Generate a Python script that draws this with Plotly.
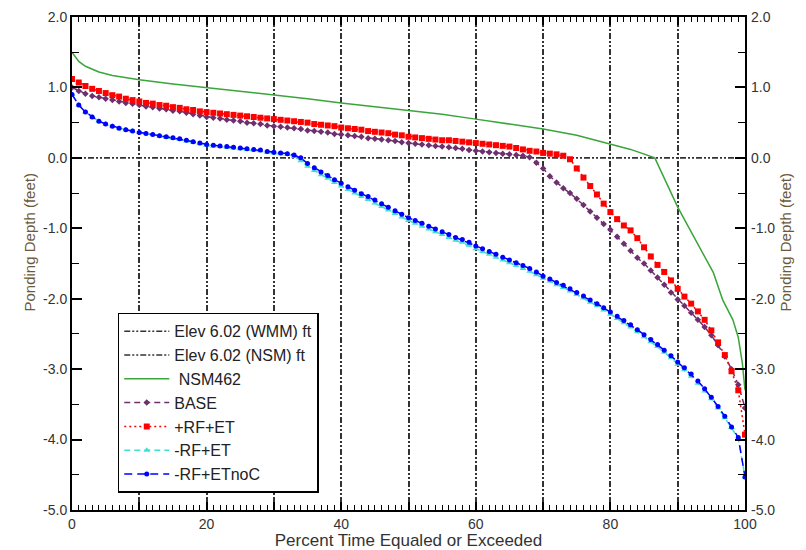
import plotly.graph_objects as go
from plotly.subplots import make_subplots

# ---------------- data ----------------
pct = list(range(0, 101))

elev_x = [0, 100]
elev_wmm = [0.0, 0.0]
elev_nsm = [0.0, 0.0]

nsm462_x = [0, 1, 2, 4, 6, 10, 15, 20, 25, 30, 35, 40, 45, 50, 55, 60, 65, 70, 75, 80,
            83, 86.6, 88, 90, 92, 94, 95.3, 96.7, 98.2, 99, 99.6, 100]
nsm462_y = [1.5, 1.37, 1.3, 1.22, 1.17, 1.11, 1.05, 1.0, 0.95, 0.9, 0.84, 0.78, 0.73, 0.68,
            0.62, 0.55, 0.48, 0.41, 0.32, 0.2, 0.12, 0.0, -0.28, -0.7, -1.05, -1.4, -1.63,
            -2.02, -2.3, -2.55, -2.91, -3.3]

base = [1.0, 0.95, 0.91, 0.88, 0.86, 0.84, 0.82, 0.80, 0.78, 0.77,
        0.75, 0.73, 0.72, 0.70, 0.69, 0.67, 0.66, 0.64, 0.62, 0.60,
        0.58, 0.57, 0.56, 0.54, 0.53, 0.52, 0.50, 0.49, 0.48, 0.46,
        0.45, 0.44, 0.43, 0.42, 0.41, 0.39, 0.38, 0.37, 0.36, 0.34,
        0.33, 0.32, 0.31, 0.30, 0.28, 0.27, 0.26, 0.25, 0.24, 0.22,
        0.21, 0.20, 0.19, 0.18, 0.17, 0.16, 0.15, 0.14, 0.13, 0.11,
        0.10, 0.09, 0.08, 0.07, 0.06, 0.05, 0.04, 0.03, 0.01, -0.07,
        -0.15, -0.26, -0.35, -0.43, -0.50, -0.58, -0.67, -0.76, -0.85, -0.94,
        -1.02, -1.12, -1.22, -1.32, -1.42, -1.50, -1.60, -1.70, -1.80, -1.91,
        -2.01, -2.10, -2.20, -2.30, -2.40, -2.52, -2.66, -2.82, -3.00, -3.22,
        -3.55]

rf_et_plus = [1.12, 1.07, 1.02, 0.98, 0.95, 0.92, 0.89, 0.87, 0.84, 0.82,
              0.80, 0.78, 0.77, 0.75, 0.74, 0.72, 0.71, 0.69, 0.68, 0.66,
              0.65, 0.64, 0.63, 0.62, 0.61, 0.60, 0.59, 0.58, 0.57, 0.56,
              0.55, 0.54, 0.53, 0.52, 0.51, 0.50, 0.48, 0.47, 0.46, 0.45,
              0.43, 0.42, 0.41, 0.40, 0.38, 0.37, 0.36, 0.35, 0.33, 0.32,
              0.30, 0.29, 0.28, 0.27, 0.26, 0.25, 0.25, 0.24, 0.23, 0.22,
              0.21, 0.20, 0.19, 0.18, 0.17, 0.16, 0.14, 0.12, 0.10, 0.09,
              0.07, 0.06, 0.05, 0.03, -0.02, -0.15, -0.28, -0.40, -0.52, -0.65,
              -0.77, -0.87, -0.96, -1.03, -1.14, -1.27, -1.40, -1.52, -1.62, -1.74,
              -1.86, -1.97, -2.07, -2.18, -2.30, -2.45, -2.62, -2.80, -3.03, -3.30,
              -3.93]

rf_et_minus = [0.90, 0.75, 0.65, 0.58, 0.52, 0.48, 0.45, 0.42, 0.40, 0.38,
               0.36, 0.345, 0.33, 0.31, 0.29, 0.28, 0.26, 0.24, 0.22, 0.20,
               0.18, 0.17, 0.16, 0.15, 0.14, 0.13, 0.12, 0.11, 0.10, 0.08,
               0.07, 0.06, 0.05, 0.02, -0.04, -0.12, -0.18, -0.24, -0.29, -0.35,
               -0.40, -0.45, -0.50, -0.55, -0.59, -0.64, -0.69, -0.74, -0.79, -0.84,
               -0.89, -0.93, -0.97, -1.01, -1.05, -1.09, -1.13, -1.17, -1.20, -1.24,
               -1.29, -1.33, -1.37, -1.41, -1.45, -1.49, -1.53, -1.57, -1.61, -1.66,
               -1.71, -1.75, -1.80, -1.84, -1.89, -1.94, -1.99, -2.05, -2.10, -2.16,
               -2.22, -2.28, -2.34, -2.40, -2.47, -2.54, -2.61, -2.68, -2.76, -2.84,
               -2.93, -3.01, -3.10, -3.20, -3.31, -3.42, -3.55, -3.69, -3.83, -3.98,
               -4.53]

rf_et_noc = [0.90, 0.75, 0.65, 0.58, 0.52, 0.48, 0.45, 0.42, 0.40, 0.38,
             0.36, 0.345, 0.33, 0.315, 0.30, 0.285, 0.27, 0.25, 0.23, 0.21,
             0.19, 0.18, 0.17, 0.16, 0.15, 0.14, 0.13, 0.12, 0.11, 0.09,
             0.08, 0.07, 0.06, 0.04, 0.00, -0.08, -0.14, -0.20, -0.25, -0.31,
             -0.36, -0.41, -0.46, -0.51, -0.55, -0.60, -0.65, -0.70, -0.75, -0.80,
             -0.85, -0.89, -0.93, -0.97, -1.01, -1.05, -1.09, -1.13, -1.16, -1.20,
             -1.25, -1.29, -1.33, -1.37, -1.41, -1.45, -1.49, -1.53, -1.57, -1.62,
             -1.68, -1.72, -1.77, -1.81, -1.86, -1.91, -1.96, -2.02, -2.07, -2.13,
             -2.19, -2.25, -2.31, -2.37, -2.44, -2.51, -2.58, -2.65, -2.73, -2.81,
             -2.90, -2.98, -3.07, -3.17, -3.28, -3.40, -3.53, -3.67, -3.82, -3.97,
             -4.53]

y_tickvals = [2, 1, 0, -1, -2, -3, -4, -5]
y_ticktext = ["2.0", "1.0", "0.0", "-1.0", "-2.0", "-3.0", "-4.0", "-5.0"]
x_label_alias = {"10": " ", "30": " ", "50": " ", "70": " ", "90": " "}
y_label_alias = {"\u22121.0": "-1.0", "\u22122.0": "-2.0", "\u22123.0": "-3.0",
                 "\u22124.0": "-4.0", "\u22125.0": "-5.0"}

# ---------------- figure ----------------
DDOT = "6px,2px,2px,2px,2px,2px"
FONT = "Arial, Liberation Sans, sans-serif"
TICKFONT = dict(family=FONT, size=14, color="#333333")

fig = make_subplots(rows=1, cols=1)
fig.add_trace(go.Scatter(x=elev_x, y=elev_wmm, mode="lines", name="Elev 6.02 (WMM) ft",
                         line=dict(color="#333333", width=1.5, dash=DDOT)))
fig.add_trace(go.Scatter(x=elev_x, y=elev_nsm, mode="lines", name="Elev 6.02 (NSM) ft",
                         line=dict(color="#333333", width=1.5, dash=DDOT)))
fig.add_trace(go.Scatter(x=nsm462_x, y=nsm462_y, mode="lines", name=" NSM462",
                         line=dict(color="#3aa53a", width=1.5)))
fig.add_trace(go.Scatter(x=pct, y=base, mode="lines+markers", name="BASE",
                         line=dict(color="#6e2f6e", width=1.5, dash="6px,4px"),
                         marker=dict(symbol="diamond", size=5, color="#6e2f6e")))
fig.add_trace(go.Scatter(x=pct, y=rf_et_plus, mode="lines+markers", name="+RF+ET",
                         line=dict(color="#ff0000", width=1.5, dash="2px,3px"),
                         marker=dict(symbol="square", size=6, color="#ff0000")))
fig.add_trace(go.Scatter(x=pct, y=rf_et_minus, mode="lines+markers", name="-RF+ET",
                         line=dict(color="#40e0d0", width=1.5, dash="6px,4px"),
                         marker=dict(symbol="triangle-up", size=6, color="#40e0d0")))
fig.add_trace(go.Scatter(x=pct, y=rf_et_noc, mode="lines+markers", name="-RF+ETnoC",
                         line=dict(color="#0000ff", width=1.5, dash="8px,5px"),
                         marker=dict(symbol="circle", size=5, color="#0000ff")))

common = dict(showline=True, linecolor="black", linewidth=2, mirror="ticks",
              ticks="inside", tickcolor="black", tickwidth=1.5, zeroline=False,
              tickfont=TICKFONT, automargin=False)

fig.update_xaxes(range=[0, 100], dtick=10, tick0=0, labelalias=x_label_alias,
                 ticklen=8, showgrid=True, gridcolor="#333333", gridwidth=1.5, griddash=DDOT,
                 minor=dict(ticks="inside", ticklen=5, tickcolor="black", tickwidth=1.2, dtick=1),
                 title=dict(text="Percent Time Equaled or Exceeded",
                            font=dict(family=FONT, size=17, color="#333333"), standoff=0),
                 **common)
fig.update_yaxes(range=[-5, 2], dtick=1, tick0=0, tickformat=".1f", labelalias=y_label_alias,
                 ticklen=10, showgrid=False,
                 minor=dict(ticks="inside", ticklen=7, tickcolor="black", tickwidth=1.2, dtick=0.5),
                 **common)

fig.update_layout(
    width=806, height=550,
    margin=dict(l=72, r=61, t=17, b=40),
    paper_bgcolor="white", plot_bgcolor="white",
    font=dict(family=FONT, size=12, color="#333333"),
    legend=dict(x=0.068, y=0.40, xanchor="left", yanchor="top",
                bgcolor="white", bordercolor="black", borderwidth=1.5,
                font=dict(family=FONT, size=16, color="#222222"),
                itemwidth=45, tracegroupgap=0),
    showlegend=True,
)

# right-hand tick labels (mirror of left axis labels)
for v, t in zip(y_tickvals, y_ticktext):
    fig.add_annotation(text=t, x=1.0, y=v, xref="paper", yref="y", xanchor="left",
                       xshift=4, showarrow=False, font=TICKFONT)

pw, ph = 806 - 72 - 61, 550 - 17 - 40
fig.add_annotation(text="Ponding Depth (feet)", x=(18 - 72) / pw, y=(510 - 243) / ph,
                   xref="paper", yref="paper", showarrow=False, textangle=-90,
                   font=dict(family=FONT, size=15, color="#6b5a3a"))
fig.add_annotation(text="Ponding Depth (feet)", x=(795 - 72) / pw, y=(510 - 243) / ph,
                   xref="paper", yref="paper", showarrow=False, textangle=-90,
                   font=dict(family=FONT, size=15, color="#6b5a3a"))

fig.write_html("out.html")
